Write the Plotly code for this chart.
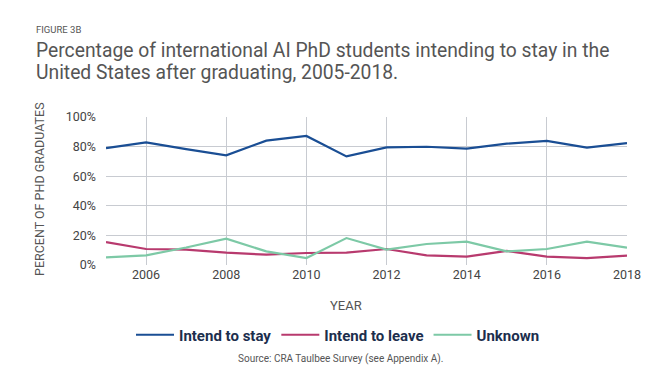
import plotly.graph_objects as go

years = list(range(2005, 2019))
intend_stay = [79.0, 82.9, 78.3, 74.1, 84.0, 87.2, 73.4, 79.5, 79.9, 78.6, 82.0, 83.8, 79.3, 82.4]
intend_leave = [15.5, 10.8, 10.4, 8.3, 7.0, 8.1, 8.3, 10.8, 6.5, 5.6, 9.5, 5.6, 4.7, 6.3]
unknown = [5.2, 6.5, 11.8, 17.8, 9.2, 4.7, 18.2, 10.4, 14.2, 15.8, 9.2, 10.8, 15.8, 11.7]
tick_years = [2006, 2008, 2010, 2012, 2014, 2016, 2018]
y_ticks = [0, 20, 40, 60, 80, 100]

series = [
    ("Intend to stay", intend_stay, "#1a4e94"),
    ("Intend to leave", intend_leave, "#b83a6e"),
    ("Unknown", unknown, "#7dc9a6"),
]

W, H = 650, 376
ML, MR, MT, MB = 98, 31, 109, 119
plot_w = W - ML - MR
plot_h = H - MT - MB
def px_x(px):
    return (px - ML) / plot_w
def px_y(py):
    return (H - MB - py) / plot_h

fig = go.Figure()
for name, vals, col in series:
    fig.add_trace(go.Scatter(x=years, y=vals, mode="lines", name="<b>" + name + "</b>",
                             line=dict(color=col, width=2.2)))

TXT = "#555555"
fig.update_layout(
    width=W, height=H,
    margin=dict(l=ML, r=MR, t=MT, b=MB),
    paper_bgcolor="white", plot_bgcolor="white",
    font=dict(family="Roboto, sans-serif", color=TXT),
    showlegend=True,
    legend=dict(orientation="h", x=px_x(330), xanchor="center", y=px_y(327), yanchor="middle",
                font=dict(size=15, color="#1c2e4d", family="Roboto, sans-serif"),
                itemwidth=38, traceorder="normal"),
    xaxis=dict(range=[2005, 2018], tickvals=tick_years, ticktext=[str(t) for t in tick_years],
               showgrid=True, gridcolor="#c8cbd1", gridwidth=1, zeroline=False,
               showline=False, ticks="", tickfont=dict(size=12.5, color="#444444")),
    yaxis=dict(range=[0, 100], tickvals=y_ticks, ticktext=[f"{v}%" for v in y_ticks],
               showgrid=True, gridcolor="#c8cbd1", gridwidth=1, zeroline=False,
               showline=False, ticks="", ticklabelstandoff=9,
               tickfont=dict(size=12.5, color="#444444")),
)

def ann(text, x, y, size, xanchor="left", color=TXT, textangle=0):
    fig.add_annotation(text=text, x=px_x(x), y=px_y(y), xref="paper", yref="paper",
                       showarrow=False, xanchor=xanchor, yanchor="middle", align="left",
                       font=dict(size=size, color=color), textangle=textangle,
                       borderpad=0)

ann("FIGURE 3B", 27, 21, 9.5)
ann("Percentage of international AI PhD students intending to stay in the", 27, 42, 19.3)
ann("United States after graduating, 2005-2018.", 27, 64, 19.3)
ann("PERCENT OF PHD GRADUATES", 31, 181, 12.5, xanchor="center", textangle=-90)
ann("YEAR", 338, 297, 13, xanchor="center")
ann("Source: CRA Taulbee Survey (see Appendix A).", 332, 351, 10, xanchor="center")

fig.write_html("out.html")
